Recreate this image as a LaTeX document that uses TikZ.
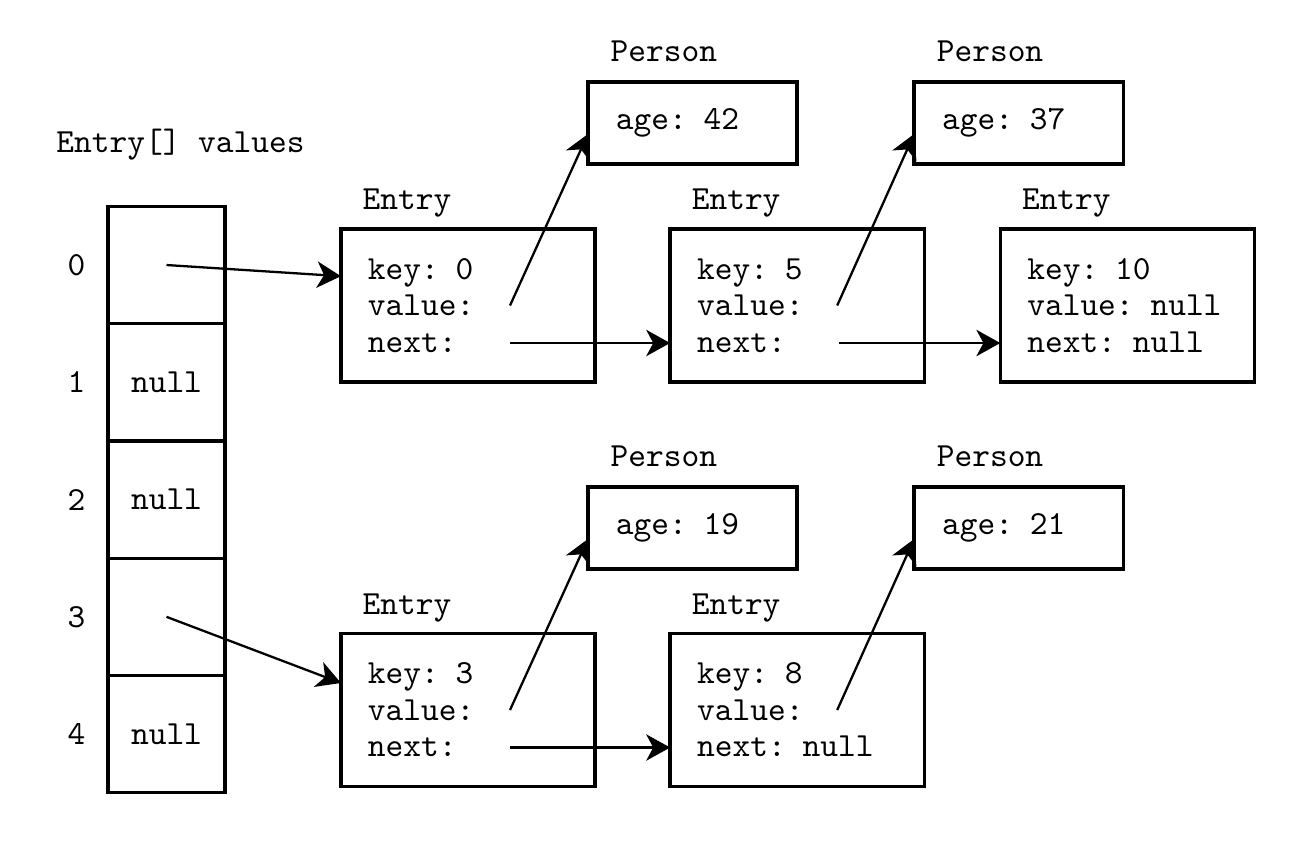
\documentclass[tikz,border=0pt]{standalone}
\usepackage{fontspec}
\usetikzlibrary{positioning}
\usetikzlibrary{arrows.meta}
\tikzset{>={Stealth[length=6.8pt,width=7.5pt,inset=2pt]}}
\tikzset{txt/.style={font=\ttfamily\fontsize{9.6}{10.4}\selectfont}}
\tikzset{cell/.style={txt,draw,line width=0.95pt,minimum size=1.172cm,inner sep=0pt,outer sep=0pt}}
\tikzset{entry/.style={txt,draw,line width=0.95pt,minimum width=2.54cm,minimum height=1.53cm,text width=2.0cm,inner xsep=0.27cm,outer sep=0pt,align=left}}
\tikzset{person/.style={txt,draw,line width=0.95pt,minimum width=2.09cm,minimum height=0.82cm,text width=1.53cm,inner xsep=0.28cm,outer sep=0pt,align=left}}
\tikzset{tag/.style={txt,inner sep=0pt,anchor=base west}}
\tikzset{ptr/.style={->,line width=0.65pt}}

\begin{document}
\begin{tikzpicture}[x=0.01cm,y=-0.01cm]
        \useasboundingbox (0,0) rectangle (1306,847);

        \node[txt,anchor=west] (title) at (44,145) {Entry[] values};

        \node[cell] (c0) at (166.5,265) {};
        \node[cell,below=0pt of c0] (c1) {null};
        \node[cell,below=0pt of c1] (c2) {null};
        \node[cell,below=0pt of c2] (c3) {};
        \node[cell,below=0pt of c3] (c4) {null};

        \node[txt,left=0.1cm of c0] (i0) {0};
        \node[txt,left=0.1cm of c1] (i1) {1};
        \node[txt,left=0.1cm of c2] (i2) {2};
        \node[txt,left=0.1cm of c3] (i3) {3};
        \node[txt,left=0.1cm of c4] (i4) {4};

        \node[entry] (e1) at (468,305.5) {key: 0\\value:\\next:};
        \node[entry,right=0.75cm of e1] (e2) {key: 5\\value:\\next:};
        \node[entry,right=0.76cm of e2] (e3) {key: 10\\value: null\\next: null};
        \node[entry] (e4) at (468,710) {key: 3\\value:\\next:};
        \node[entry,right=0.75cm of e4] (e5) {key: 8\\value:\\next: null};

        \node[person] (p1) at (692.5,123) {age: 42};
        \node[person,right=1.17cm of p1] (p2) {age: 37};
        \node[person] (p3) at (692.5,528) {age: 19};
        \node[person,right=1.17cm of p3] (p4) {age: 21};

        \node[above right=0.19cm and 0.21cm of e1.north west,tag] (t1) {Entry};
        \node[above right=0.19cm and 0.21cm of e2.north west,tag] (t2) {Entry};
        \node[above right=0.19cm and 0.21cm of e3.north west,tag] (t3) {Entry};
        \node[above right=0.19cm and 0.21cm of e4.north west,tag] (t4) {Entry};
        \node[above right=0.19cm and 0.21cm of e5.north west,tag] (t5) {Entry};
        \node[above right=0.20cm and 0.22cm of p1.north west,tag] (t6) {Person};
        \node[above right=0.20cm and 0.22cm of p2.north west,tag] (t7) {Person};
        \node[above right=0.20cm and 0.22cm of p3.north west,tag] (t8) {Person};
        \node[above right=0.20cm and 0.22cm of p4.north west,tag] (t9) {Person};

        % slots of the array
        \draw[ptr] (c0.center) -- (e1.167);
        \draw[ptr] (c3.center) -- (e4.168);

        % value and next fields
        \coordinate (v1) at ([shift={(42,0)}]e1.center);
        \coordinate (n1) at ([shift={(42,37.5)}]e1.center);
        \coordinate (v2) at ([shift={(40,0)}]e2.center);
        \coordinate (n2) at ([shift={(42,37.5)}]e2.center);
        \coordinate (v4) at ([shift={(42,0)}]e4.center);
        \coordinate (n4) at ([shift={(42,37.5)}]e4.center);
        \coordinate (v5) at ([shift={(40,0)}]e5.center);

        \draw[ptr] (v1) -- (p1.186);
        \draw[ptr] (n1) -- (n1 -| e2.west);
        \draw[ptr] (v2) -- (p2.186);
        \draw[ptr] (n2) -- (n2 -| e3.west);
        \draw[ptr] (v4) -- (p3.186);
        \draw[ptr] (n4) -- (n4 -| e5.west);
        \draw[ptr] (v5) -- (p4.186);
\end{tikzpicture}
\end{document}
